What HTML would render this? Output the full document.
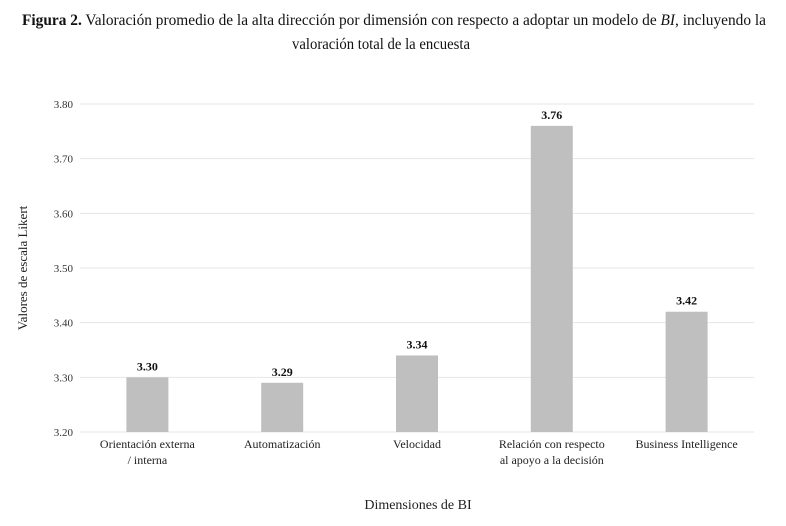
<!DOCTYPE html>
<html><head><meta charset="utf-8"><style>
body{margin:0;background:#fff;}
svg{display:block;font-family:"Liberation Serif",serif;}
</style></head><body>
<svg id="chart" width="786" height="526" viewBox="0 0 786 526">
<text x="22" y="25" font-size="16" textLength="744" lengthAdjust="spacingAndGlyphs" fill="#111"><tspan font-weight="bold">Figura 2.</tspan> Valoración promedio de la alta dirección por dimensión con respecto a adoptar un modelo de <tspan font-style="italic">BI</tspan>, incluyendo la</text>
<text x="292" y="49" font-size="16" textLength="178" lengthAdjust="spacingAndGlyphs" fill="#111">valoración total de la encuesta</text>
<g id="grid"></g><g id="bars"></g><g id="xlabels"></g>
<text transform="translate(27,268) rotate(-90)" text-anchor="middle" font-size="13" fill="#222">Valores de escala Likert</text>
<text x="418" y="509" text-anchor="middle" font-size="14" fill="#222">Dimensiones de BI</text>
</svg>
<script>
const categories=[["Orientación externa","/ interna"],["Automatización"],["Velocidad"],["Relación con respecto","al apoyo a la decisión"],["Business Intelligence"]];
const values=[3.30,3.29,3.34,3.76,3.42];
const valueLabels=["3.30","3.29","3.34","3.76","3.42"];
const yTicks=[3.20,3.30,3.40,3.50,3.60,3.70,3.80];
const yMin=3.2,yMax=3.8,plotTop=104,plotBottom=432,plotLeft=80,plotRight=754;
const ns="http://www.w3.org/2000/svg";
function yScale(v){return plotBottom-(v-yMin)/(yMax-yMin)*(plotBottom-plotTop);}
const step=(plotRight-plotLeft)/categories.length;
function xc(i){return plotLeft+step*(i+0.5);}
function mk(tag,attrs,parent,txt){const e=document.createElementNS(ns,tag);for(const k in attrs)e.setAttribute(k,attrs[k]);if(txt!==undefined)e.textContent=txt;document.getElementById(parent).appendChild(e);return e;}
yTicks.forEach((t)=>{
  const l=mk('line',{x1:plotLeft,x2:plotRight,y1:yScale(t),y2:yScale(t),stroke:'#e6e6e6','stroke-width':1},'grid');
  
  
  const tx=mk('text',{x:73,y:yScale(t)+4,'text-anchor':'end','font-size':11,fill:'#333'},'grid',t.toFixed(2));
  
  
});
values.forEach((v,i)=>{
  const bw=42;
  const r=mk('rect',{x:xc(i)-bw/2,y:yScale(v),width:bw,height:plotBottom-yScale(v),fill:'#bfbfbf'},'bars');
  
  
  const lb=mk('text',{x:xc(i),y:yScale(v)-7,'text-anchor':'middle','font-size':12,'font-weight':'bold',fill:'#111'},'bars',valueLabels[i]);
  
  
  categories[i].forEach((line,j)=>{
    const c=mk('text',{x:xc(i),y:448+j*16,'text-anchor':'middle','font-size':12,fill:'#222'},'xlabels',line);
    
    
  });
});
</script>
</body></html>
